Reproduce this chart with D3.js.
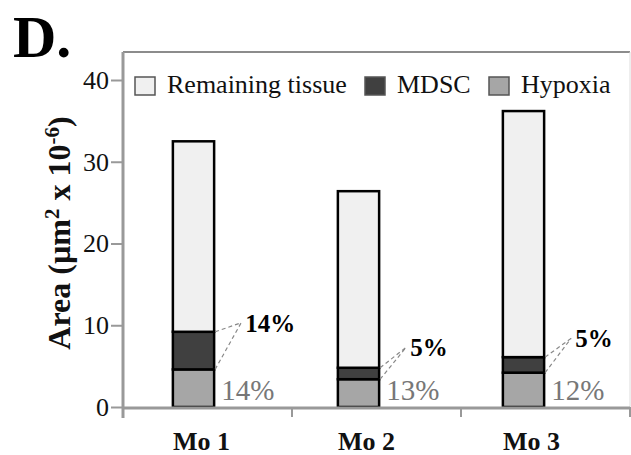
<!DOCTYPE html>
<html><head><meta charset="utf-8">
<script src="https://cdn.jsdelivr.net/npm/d3@7"></script>
</head>
<body style="margin:0;background:#fff"><svg id="c" width="631" height="455" font-family="Liberation Serif, Times New Roman, serif" style="font-family:'Liberation Serif','Times New Roman',serif"></svg>
<script>
const categories = ["Mo 1", "Mo 2", "Mo 3"];
const hypoxia = [4.6, 3.4, 4.2];
const mdsc = [4.6, 1.4, 1.9];
const remaining = [23.3, 21.6, 30.1];
const mdscPct = ["14%", "5%", "5%"];
const hypoxiaPct = ["14%", "13%", "12%"];
const calloutY = [10.3, 7.3, 8.4];
const yTicks = [0, 10, 20, 30, 40];
const seriesNames = ["Remaining tissue", "MDSC", "Hypoxia"];

const FONT = "Liberation Serif, Times New Roman, serif";
const colors = {"Remaining tissue":"#f0f0f0","MDSC":"#404040","Hypoxia":"#a6a6a6"};
const svg = d3.select("#c");
function T(sel){ return sel.attr("font-family",FONT).style("font-family",FONT); }

const y = d3.scaleLinear().domain([0, 40]).range([407, 80]);
const xAxisScale = d3.scaleBand().domain(categories).range([123, 630]).padding(0);
const xBar = d3.scaleBand().domain(categories).range([111, 606]).paddingInner(0.75).paddingOuter(0.375);

// frame
svg.append("line").attr("x1",123).attr("x2",630).attr("y1",52).attr("y2",52).attr("stroke","#666").attr("stroke-width",1.5);
svg.append("line").attr("x1",630).attr("x2",630).attr("y1",52).attr("y2",407).attr("stroke","#ddd").attr("stroke-width",1);

// stacked data
const rows = categories.map((c,i)=>({cat:c,"Hypoxia":hypoxia[i],"MDSC":mdsc[i],"Remaining tissue":remaining[i]}));
const stack = d3.stack().keys(["Hypoxia","MDSC","Remaining tissue"])(rows);
svg.append("g").selectAll("g").data(stack).enter().append("g")
  .attr("fill",d=>colors[d.key])
  .selectAll("rect").data(d=>d).enter().append("rect")
  .attr("x",d=>xBar(d.data.cat)).attr("width",xBar.bandwidth())
  .attr("y",d=>y(d[1])).attr("height",d=>y(d[0])-y(d[1]))
  .attr("stroke","#000").attr("stroke-width",2.5);

// y axis
const yAxis = svg.append("g").attr("transform","translate(123,0)")
  .call(d3.axisLeft(y).tickValues(yTicks).tickSize(12).tickPadding(2).tickSizeOuter(0));
T(yAxis);
yAxis.select(".domain").attr("stroke","#999").attr("stroke-width",3).attr("d","M0,52V418");
yAxis.selectAll(".tick line").attr("stroke","#999").attr("stroke-width",2);
T(yAxis.selectAll(".tick text")).attr("font-size",26).attr("fill","#111");

// x axis line + ticks at band boundaries
svg.append("line").attr("x1",123).attr("x2",630).attr("y1",408).attr("y2",408).attr("stroke","#999").attr("stroke-width",3);
const bounds = categories.map(c => xAxisScale(c) + xAxisScale.bandwidth());
svg.selectAll(".xt").data(bounds).enter().append("line")
  .attr("x1",d=>d).attr("x2",d=>d).attr("y1",407).attr("y2",417).attr("stroke","#999").attr("stroke-width",2);

// x labels
T(svg.selectAll(".xl").data(categories).enter().append("text"))
  .attr("x",c=>xBar(c)+xBar.bandwidth()/2+8).attr("y",450)
  .attr("text-anchor","middle").attr("font-weight","bold").attr("font-size",26).attr("fill","#111").text(c=>c);

// callouts
categories.forEach((c,i)=>{
  const xr = xBar(c)+xBar.bandwidth();
  const y0 = y(hypoxia[i]), y1 = y(hypoxia[i]+mdsc[i]);
  const px = xr + 27, py = y(calloutY[i]);
  [y0,y1].forEach(yy=>{
    svg.append("line").attr("x1",xr+1).attr("y1",yy).attr("x2",px).attr("y2",py)
      .attr("stroke","#888").attr("stroke-width",1.2).attr("stroke-dasharray","4,3");
  });
  T(svg.append("text")).attr("x",px+4).attr("y",py+9).attr("font-weight","bold").attr("font-size",25)
    .attr("fill","#000").text(mdscPct[i]);
  T(svg.append("text")).attr("x",xr+7).attr("y",y(0)-7).attr("font-size",29)
    .attr("fill","#777").text(hypoxiaPct[i]);
});

// legend
const legendX = [135, 365, 489];
seriesNames.forEach((n,i)=>{
  svg.append("rect").attr("x",legendX[i]).attr("y",77).attr("width",20).attr("height",18)
    .attr("fill",colors[n]).attr("stroke","#555").attr("stroke-width",1.5);
  T(svg.append("text")).attr("x",legendX[i]+32).attr("y",93).attr("font-size",26).attr("fill","#111").text(n);
});

// y label
T(svg.append("text")).attr("transform","translate(70,233) rotate(-90)").attr("text-anchor","middle")
  .attr("font-weight","bold").attr("font-size",32).attr("fill","#111")
  .html('Area (µm<tspan dy="-11" font-size="21">2</tspan><tspan dy="11"> x 10</tspan><tspan dy="-11" font-size="21">-6</tspan><tspan dy="11">)</tspan>');

// panel letter
T(svg.append("text")).attr("x",13).attr("y",57).attr("font-weight","bold").attr("font-size",60).attr("fill","#000").text("D.");
</script></body></html>
